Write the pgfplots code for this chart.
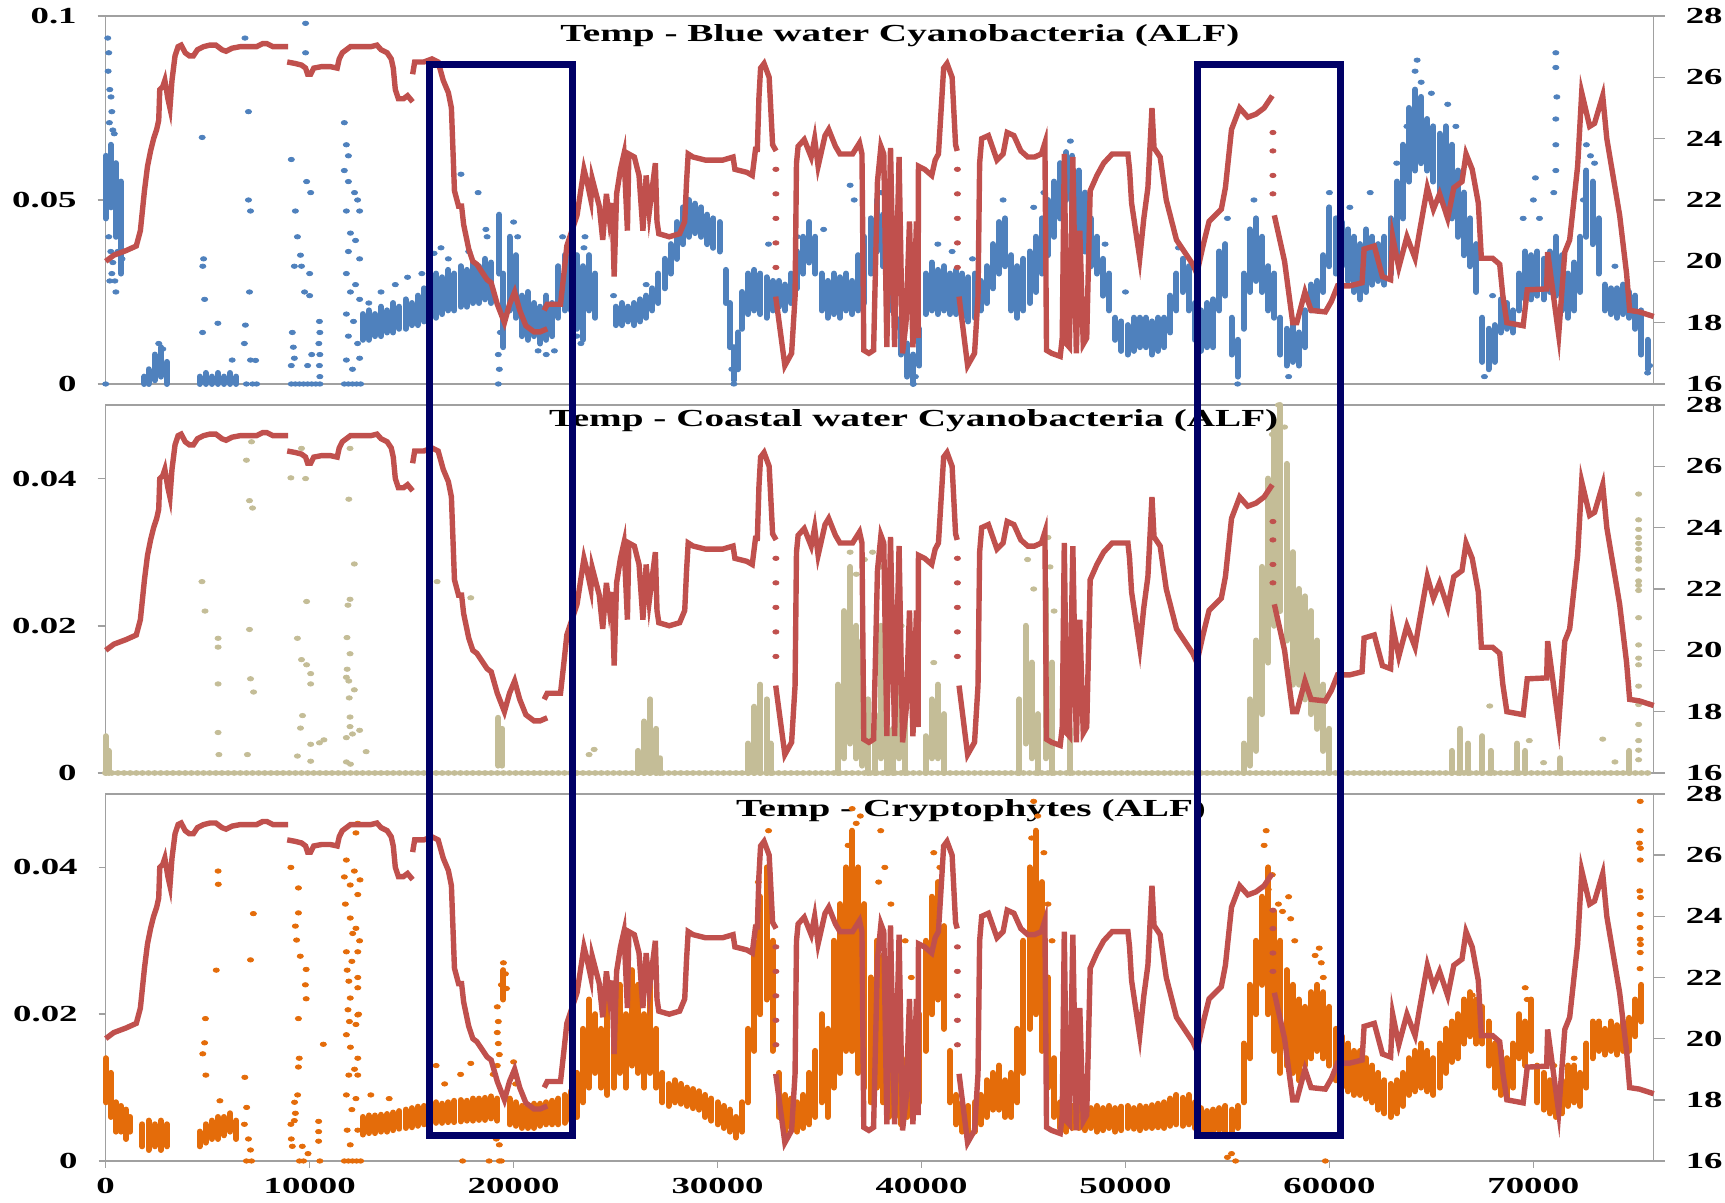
\documentclass[border=0pt]{standalone}
\usepackage{fontspec}
\setmainfont{Liberation Serif}[FakeStretch=1.6]
\usepackage{pgfplots}
\usepackage{pgfplotstable}
\pgfplotsset{compat=1.18}
\definecolor{blueC}{RGB}{79,129,189}
\definecolor{redC}{RGB}{192,80,77}
\definecolor{tanC}{RGB}{196,189,151}
\definecolor{orC}{RGB}{228,108,10}
\definecolor{navyC}{RGB}{0,0,102}
\definecolor{frameC}{RGB}{160,160,160}

\pgfplotstableread{
x T
0 20.0
400 20.2
1000 20.35
1500 20.5
1700 21.0
1900 22.3
2050 23.1
2200 23.6
2350 24.0
2500 24.3
2600 24.6
2650 25.6
2800 25.7
2900 25.9
3050 25.3
3150 25.0
3250 25.9
3400 26.7
3550 27.0
3700 27.05
3900 26.8
4100 26.7
4300 26.7
4500 26.9
4800 27.0
5100 27.05
5400 27.05
5700 26.9
5900 26.85
6200 26.95
6600 27.0
7000 27.0
7400 27.0
7700 27.1
7900 27.1
8200 27.0
8950 27.0
nan nan
8900 26.5
9300 26.45
9600 26.4
9800 26.3
9900 26.1
10050 26.1
10200 26.3
10600 26.35
11000 26.35
11350 26.3
11450 26.6
11600 26.8
12000 27.0
12500 27.0
13000 27.0
13300 27.05
13500 26.9
13800 26.8
14000 26.6
14100 26.3
14200 25.6
14350 25.3
14600 25.3
14800 25.4
15050 25.2
nan nan
15050 26.1
15150 26.5
15600 26.5
16000 26.6
16300 26.5
16550 25.9
16800 25.5
16950 25.0
17100 22.3
17300 21.8
17450 21.8
17550 21.2
17800 20.4
18000 20.0
18200 19.9
18500 19.6
18700 19.4
18900 19.3
19200 18.6
19550 18.0
19800 18.6
20050 19.0
20300 18.4
20600 17.9
21000 17.7
21300 17.7
21650 17.8
nan nan
21500 18.4
21650 18.6
22300 18.6
22450 19.5
22610 20.5
23110 21.5
23450 23.0
23600 22.6
23790 22.0
23850 22.7
24200 21.8
24370 20.7
24550 22.2
24700 21.35
24830 21.9
24930 19.5
25050 22.2
25240 23.0
25410 23.5
25580 21.0
25650 23.5
25920 23.4
26150 22.8
26340 21.0
26500 22.8
26650 21.6
26950 23.2
27030 21.3
27120 20.9
27630 20.8
28140 20.9
28390 21.3
28480 22.6
28560 23.5
28800 23.4
29410 23.3
30250 23.3
30760 23.4
30850 23.0
31440 22.9
31700 22.8
31860 23.65
31950 23.65
32030 25.35
32110 26.3
32280 26.45
32530 26.0
32700 23.8
32870 23.6
nan nan
32850 18.85
33300 16.6
33630 17.0
33800 18.85
33870 23.2
33950 23.75
34250 23.97
34590 23.4
34760 24.0
34930 23.1
35270 24.1
35450 24.3
35780 23.75
36000 23.5
36290 23.5
36620 23.5
36960 23.86
37080 23.5
37170 17.1
37420 17.0
37650 17.1
37840 22.6
38010 23.75
38150 23.5
38300 17.2
38480 23.7
38680 17.2
38900 23.4
39070 17.0
39240 18.0
39410 21.3
39580 17.2
39750 21.3
39830 17.5
39850 23.1
40150 23.0
40500 22.8
40670 23.3
40830 23.5
41000 25.35
41085 26.3
41250 26.45
41500 26.0
41670 23.8
41750 23.6
nan nan
41840 18.85
42260 16.6
42600 17.0
42770 18.85
42850 23.2
42950 24.0
43280 24.1
43700 23.3
44000 23.5
44200 24.2
44530 24.1
44870 23.6
45210 23.4
45540 23.4
45880 23.5
46050 23.86
46130 17.1
46380 17.0
46800 16.9
46900 17.5
47000 23.5
47120 17.3
47250 17.2
47420 23.4
47590 17.0
47760 21.0
47930 17.3
48100 17.5
48270 22.3
48600 22.8
48930 23.2
49350 23.5
50120 23.5
50200 23.0
50300 21.9
50700 20.1
50900 21.4
51100 22.4
51300 25.0
51400 23.7
51700 23.4
52000 22.0
52500 20.7
52700 20.5
53300 19.9
53500 19.6
53800 20.5
54100 21.3
54700 21.7
54900 22.4
55200 24.3
55600 25.0
56000 24.7
56400 24.8
56800 25.0
57200 25.4
nan nan
57300 21.5
57800 20.0
58200 18.0
58400 18.0
58800 19.0
59100 18.4
59800 18.35
60100 18.7
60400 19.2
61000 19.2
61600 19.3
61700 20.4
62200 20.5
62600 19.5
63000 19.4
63100 20.8
63400 19.8
63800 20.8
64200 20.1
64400 20.9
64800 22.4
65100 21.7
65400 22.2
65800 21.4
66100 22.4
66500 22.6
66700 23.5
67000 23.0
67300 21.9
67450 20.1
68000 20.1
68350 19.9
68500 18.9
68700 18.0
69500 17.9
69700 19.07
70650 19.1
70700 20.3
71240 17.6
71540 20.3
71780 20.7
72170 23.1
72370 25.5
72760 24.4
73000 24.5
73400 25.4
73600 24.0
74230 21.5
74570 19.6
74720 18.4
75200 18.35
75900 18.2
}\tempdata

\pgfplotstableread{
x T
32860 23.0
32860 22.2
32860 21.4
32860 20.6
32860 19.8
41760 23.0
41760 22.2
41760 21.4
41760 20.6
41760 19.8
57230 24.2
57230 23.6
57230 22.8
57230 22.2
}\tempdots

\pgfplotstableread{
x lo hi
0 .045 .062
250 .048 .065
500 .040 .060
750 .030 .055
1900 .000 .002
2100 .000 .004
2400 .001 .008
2700 .002 .010
3000 .000 .006
4600 .000 .002
4900 .000 .003
5200 .000 .002
5500 .000 .003
5800 .000 .002
6100 .000 .003
6400 .000 .002
12600 .012 .019
12900 .012 .020
13200 .013 .019
13500 .013 .021
13800 .014 .020
14100 .014 .022
14400 .015 .021
14700 .015 .023
15000 .016 .022
15300 .016 .024
15600 .017 .026
15900 .018 .028
16200 .018 .030
16500 .019 .029
16800 .020 .031
17100 .020 .030
17400 .021 .032
17700 .021 .031
18000 .022 .033
18300 .022 .032
18600 .023 .034
18900 .022 .033
19300 .030 .046
19500 .010 .030
19800 .020 .040
20100 .018 .035
20400 .013 .024
20700 .012 .025
21000 .013 .022
21300 .011 .021
21600 .012 .024
21900 .013 .022
22200 .018 .032
22500 .020 .035
22800 .020 .035
23100 .015 .035
23400 .012 .032
23700 .020 .035
24000 .018 .030
25000 .016 .021
25300 .016 .022
25600 .017 .021
25900 .016 .022
26200 .017 .023
26500 .018 .024
26800 .020 .026
27100 .022 .030
27400 .026 .034
27700 .030 .038
28000 .034 .044
28300 .038 .048
28600 .040 .050
28900 .041 .049
29200 .040 .048
29500 .038 .046
29800 .037 .045
30100 .036 .044
30400 .022 .031
30600 .010 .022
30800 .001 .010
31000 .004 .014
31200 .015 .025
31500 .019 .030
31800 .020 .031
32100 .019 .030
32400 .018 .029
32700 .020 .028
33000 .021 .028
33300 .020 .027
33600 .022 .030
33900 .026 .036
34200 .030 .040
34500 .033 .044
34800 .030 .040
35100 .020 .030
35400 .018 .028
35700 .019 .030
36000 .018 .029
36300 .020 .030
36600 .019 .028
36900 .020 .035
37200 .022 .040
37500 .030 .045
37800 .036 .050
38100 .032 .046
38400 .020 .035
38700 .015 .025
39000 .008 .018
39300 .002 .011
39600 .000 .008
39900 .005 .015
40200 .019 .030
40500 .020 .033
40800 .019 .031
41100 .020 .032
41400 .019 .030
41700 .019 .031
42000 .018 .030
42300 .017 .029
42600 .018 .030
42900 .020 .028
43200 .022 .032
43500 .026 .038
43800 .030 .044
44100 .032 .045
44400 .020 .035
44700 .018 .032
45000 .020 .034
45300 .022 .036
45600 .025 .040
45900 .030 .045
46200 .035 .050
46500 .040 .055
46800 .045 .060
47100 .050 .063
47400 .045 .062
47700 .040 .058
48000 .036 .052
48300 .032 .045
48600 .030 .040
48900 .024 .034
49200 .020 .030
49500 .012 .018
49800 .009 .017
50100 .008 .016
50400 .009 .018
50700 .010 .018
51000 .010 .018
51300 .008 .017
51600 .009 .018
51900 .010 .018
52200 .014 .024
52500 .020 .030
52800 .025 .034
53100 .020 .032
53400 .012 .022
53700 .009 .020
54000 .010 .022
54300 .010 .023
54600 .020 .036
54900 .024 .038
55200 .008 .018
55500 .002 .012
55800 .015 .030
56100 .025 .042
56400 .028 .045
56700 .025 .040
57000 .020 .032
57300 .018 .030
57600 .008 .018
57900 .005 .015
58200 .006 .016
58500 .005 .014
58800 .010 .020
59100 .020 .027
59400 .020 .028
59700 .025 .035
60000 .032 .048
60300 .030 .045
60600 .032 .044
60900 .028 .042
61200 .025 .040
61500 .023 .038
61800 .025 .042
62100 .027 .040
62400 .028 .038
62700 .027 .040
63000 .030 .045
63300 .035 .055
63600 .045 .065
63900 .055 .075
64200 .058 .080
64500 .060 .078
64800 .058 .072
65100 .055 .070
65400 .050 .068
65700 .048 .070
66000 .045 .065
66300 .040 .058
66600 .035 .052
66900 .032 .045
67200 .025 .038
67500 .006 .018
67800 .004 .015
68100 .006 .016
68400 .014 .023
68700 .015 .022
69000 .014 .020
69300 .020 .030
69600 .023 .036
69900 .023 .035
70200 .024 .036
70500 .023 .034
70800 .025 .036
71100 .024 .040
71400 .020 .035
71700 .018 .030
72000 .020 .033
72300 .025 .040
72600 .040 .058
72900 .038 .055
73200 .030 .045
73500 .020 .027
73800 .019 .026
74100 .018 .026
74400 .019 .027
74700 .018 .025
75000 .015 .024
75300 .008 .020
75600 .004 .012
}\blueband

\pgfplotstableread{
x y
0 0
100 .094
150 .090
120 .085
200 .080
260 .078
300 .074
180 .071
350 .069
420 .068
150 .040
250 .036
350 .033
300 .030
200 .028
500 .025
450 .028
700 .050
650 .043
600 .036
800 .034
2600 .011
2800 .0095
4760 .032
4800 .034
4850 .023
4750 .014
4730 .067
5500 .0165
6200 .0065
6830 .094
7000 .074
7000 .050
7100 .047
7050 .025
6850 .016
6800 .011
7100 .0065
7350 .0064
6900 0
7200 0
7400 0
9800 .098
9800 .090
9100 .061
9850 .055
10050 .052
9300 .047
9400 .040
9550 .035
9250 .032
9600 .032
10000 .030
9750 .025
10000 .024
9150 .014
9200 .010
9250 .007
9100 .005
10100 .008
9900 .005
9100 0
9300 0
9500 0
9700 0
9900 0
10100 0
10300 0
10480 .017
10500 .014
10450 .011
10500 .008
10480 .005
10500 .002
10500 0
11700 .071
11800 .065
11900 .062
11700 .058
11900 .055
12200 .052
12350 .050
12450 .047
11800 .047
12000 .041
12250 .039
11900 .036
12450 .034
11800 .030
12250 .027
12000 .025
12450 .023
11800 .019
12150 .017
11900 .013
12350 .011
11800 .0065
12450 .007
12100 .004
11700 0
11900 0
12100 0
12300 0
12500 0
12900 .022
13500 .025
14200 .027
14800 .029
15500 .030
16100 .0355
16440 .037
17420 .057
18260 .052
18640 .042
18700 .040
16800 .034
17800 .036
19250 .008
19250 0
19300 .004
19350 .014
19400 .020
20000 .044
20200 .040
21200 .009
21600 .008
22000 .009
23500 .040
23450 .037
22400 .040
23300 .011
23100 .013
24900 .024
26500 .027
30800 0
30700 .004
32500 .038
33900 .040
35200 .042
36500 .054
36700 .050
38000 .052
39600 0
39700 .002
40800 .038
41500 .036
42500 .034
44000 .050
45500 .048
46000 .052
47300 .066
49000 .038
50000 .025
52600 .037
55000 .045
55500 0
56300 .050
58000 .002
60000 .052
61000 .048
62000 .052
63300 .060
64300 .088
64200 .085
64500 .082
63800 .070
65000 .079
65800 .076
66200 .070
67600 .002
68000 .024
69500 .045
70100 .056
70000 .050
70300 .045
71100 .090
71100 .086
71150 .078
71100 .072
71100 .065
71100 .058
71000 .052
72600 .065
72800 .062
73000 .060
72450 .050
74000 .032
75600 .003
75700 .005
}\bluepts

\pgfplotstableread{
x lo hi
0 0 .005
150 0 .003
19250 .001 .0075
19450 .001 .006
26100 0 .003
26400 0 .007
26700 0 .010
27000 0 .006
27200 0 .002
31500 0 .004
31800 0 .009
32100 0 .012
32400 0 .010
32600 0 .004
35900 0 .012
36200 .002 .022
36500 .004 .028
36800 .002 .020
37100 .001 .018
37400 0 .010
37700 0 .008
38000 .002 .020
38300 0 .012
38600 0 .006
38900 .002 .015
39200 0 .008
40200 0 .005
40500 .002 .010
40800 .002 .012
41100 0 .008
44800 0 .010
45100 .004 .020
45400 .002 .015
45700 0 .008
46100 .002 .025
46400 0 .015
47300 0 .006
55800 0 .004
56100 .001 .010
56400 .003 .018
56700 .008 .028
57000 .015 .040
57300 .020 .048
57600 .022 .050
57900 .018 .042
58200 .012 .030
58500 .012 .025
58800 .010 .024
59100 .008 .022
59400 .006 .018
59700 .003 .012
60000 0 .006
66000 0 .003
66400 0 .006
66800 0 .004
67500 0 .005
67900 0 .003
69200 0 .004
69600 0 .003
71300 0 .002
74700 0 .003
}\tanband

\pgfplotstableread{
x y
4720 .026
4870 .022
5510 .0183
5510 .0171
5510 .0121
5510 .0055
5550 .0025
6900 .0425
7050 .037
7200 .036
7050 .0195
7100 .0128
7250 .011
6950 .0025
7150 .045
9080 .0401
9800 .040
9600 .0441
9850 .0233
9400 .0183
9600 .0154
9850 .0147
10050 .0135
10050 .0121
9650 .0078
9550 .0061
10050 .0039
9400 .0023
10050 .0016
10480 .0041
10700 .0045
11980 .0441
11920 .0372
12190 .0284
11980 .0236
11880 .0228
11830 .0184
11980 .0162
11840 .0141
11800 .013
11920 .0125
12190 .0113
11940 .0102
11980 .0076
11980 .0063
12450 .0058
11800 .0048
12100 .0053
12770 .0029
11800 .0015
12000 .0012
16250 .026
17900 .0238
23950 .0032
23700 .0025
36500 .030
36800 .027
37200 .029
37600 .030
38000 .028
38300 .025
38600 .022
39000 .020
38200 .015
39300 .010
40600 .015
45200 .029
45500 .025
46200 .032
46300 .028
46500 .022
47400 .012
47600 .008
57500 .050
57200 .046
57800 .047
67860 .0091
69800 .0044
70500 .0014
73400 .0046
74000 .0015
75160 .0379
75160 .0344
75160 .0331
75160 .032
75160 .0312
75160 .0304
75160 .0292
75160 .0288
75160 .0277
75160 .0261
75160 .0255
75160 .0248
75160 .0211
75160 .0174
75160 .0156
75160 .0147
75160 .0118
75160 .0093
75160 .0066
75160 .0044
75160 .0031
75160 .0018
}\tanpts

\pgfplotstableread{
x lo hi
0 .008 .014
250 .006 .012
500 .004 .008
750 .004 .0075
1000 .003 .007
1200 .004 .006
1800 .002 .005
2100 .0015 .0055
2400 .002 .005
2700 .0015 .0055
3000 .002 .005
4600 .002 .004
4900 .0025 .005
5200 .003 .0055
5500 .003 .006
5800 .0035 .006
6100 .004 .0065
6400 .003 .0055
12600 .0036 .0060
12900 .0038 .0062
13200 .0038 .0062
13500 .004 .0063
13800 .004 .0064
14100 .0042 .0066
14400 .0044 .0068
14700 .0045 .0070
15000 .0046 .0072
15300 .0048 .0074
15600 .005 .0075
15900 .005 .0078
16200 .0052 .008
16500 .0052 .0078
16800 .0053 .0080
17100 .0053 .0082
17400 .0054 .0083
17700 .0055 .0082
18000 .0055 .0085
18300 .0056 .0085
18600 .0056 .0086
18900 .0058 .0088
19200 .0055 .0085
19500 .022 .026
19800 .005 .0085
20100 .0048 .008
20400 .0045 .0075
20700 .0045 .0075
21000 .0045 .0078
21300 .0048 .0078
21600 .005 .008
21900 .005 .0082
22200 .005 .0085
22500 .0052 .009
22800 .0055 .0095
23100 .006 .012
23400 .008 .018
23700 .010 .022
24000 .012 .020
24300 .010 .018
24600 .009 .022
24900 .010 .020
25200 .012 .024
25500 .010 .020
25800 .013 .026
26100 .012 .024
26400 .010 .020
26700 .012 .025
27000 .010 .018
27300 .008 .012
27600 .0075 .0105
27900 .008 .011
28200 .0078 .0105
28500 .0075 .010
28800 .0072 .0098
29100 .007 .0095
29400 .006 .009
29700 .0055 .0085
30000 .005 .008
30300 .0045 .0075
30600 .004 .007
30900 .0032 .006
31200 .004 .008
31500 .008 .018
31800 .015 .030
32100 .020 .036
32400 .022 .040
32700 .015 .030
33000 .006 .012
33300 .004 .009
33600 .0045 .0085
33900 .004 .008
34200 .0045 .009
34500 .005 .012
34800 .006 .015
35100 .008 .020
35400 .006 .018
35700 .010 .030
36000 .012 .035
36300 .015 .040
36600 .015 .045
36900 .012 .040
37200 .010 .035
37500 .008 .025
37800 .010 .030
38100 .008 .028
38400 .006 .020
38700 .006 .015
39000 .005 .012
39300 .006 .014
39600 .006 .012
39900 .008 .020
40200 .015 .030
40500 .020 .036
40800 .022 .038
41100 .018 .032
41400 .008 .015
41700 .005 .009
42000 .004 .008
42300 .003 .0075
42600 .004 .008
42900 .005 .009
43200 .006 .011
43500 .007 .012
43800 .007 .013
44100 .006 .011
44400 .006 .012
44700 .008 .018
45000 .012 .030
45300 .018 .040
45600 .020 .045
45900 .015 .038
46200 .010 .025
46500 .006 .014
46800 .0045 .008
47100 .004 .0075
47400 .0045 .0075
47700 .0045 .0078
48000 .0042 .0075
48300 .0045 .0072
48600 .004 .0075
48900 .0042 .0072
49200 .0045 .0075
49500 .004 .0072
49800 .0042 .0074
50100 .0045 .0075
50400 .0044 .0072
50700 .0042 .0075
51000 .0045 .0074
51300 .0045 .0076
51600 .0046 .0078
51900 .0045 .0080
52200 .0048 .0085
52500 .005 .0090
52800 .0048 .0086
53100 .005 .0090
53400 .0045 .0080
53700 .004 .0072
54000 .004 .0068
54300 .004 .0070
54600 .0042 .0072
54900 .004 .0075
55200 .004 .0070
55500 .0045 .0075
55800 .008 .016
56100 .014 .024
56400 .020 .030
56700 .024 .036
57000 .020 .040
57300 .015 .034
57600 .012 .030
57900 .013 .026
58200 .012 .024
58500 .011 .022
58800 .013 .021
59100 .014 .023
59400 .015 .024
59700 .014 .023
60000 .013 .021
60300 .011 .018
60600 .010 .017
60900 .0095 .016
61200 .009 .015
61500 .009 .015
61800 .0085 .014
62100 .008 .013
62400 .007 .012
62700 .0065 .011
63000 .006 .0105
63300 .0065 .011
63600 .0075 .012
63900 .009 .014
64200 .0095 .015
64500 .010 .016
64800 .0095 .015
65100 .009 .014
65400 .010 .016
65700 .012 .018
66000 .0135 .019
66300 .014 .020
66600 .016 .022
66900 .017 .023
67200 .016 .022
67500 .016 .021
67800 .013 .019
68100 .010 .016
68400 .009 .015
68700 .0085 .014
69000 .010 .016
69300 .014 .020
69600 .013 .019
69900 .015 .022
70200 .008 .013
70500 .007 .012
70800 .0065 .011
71100 .006 .010
71400 .0065 .011
71700 .0075 .013
72000 .008 .013
72300 .0075 .012
72600 .010 .016
72900 .014 .019
73200 .015 .019
73500 .0145 .018
73800 .015 .019
74100 .0145 .0185
74400 .015 .019
74700 .015 .0195
75000 .017 .022
75300 .019 .024
}\orband

\pgfplotstableread{
x y
4890 .0194
4850 .0161
4760 .0146
4910 .0117
5420 .026
5510 .0395
5520 .0377
5600 .0082
6820 .0114
7100 .0274
7240 .0337
6910 .0073
6800 .005
7000 .003
7100 .0015
6900 0
7150 0
9080 .040
9450 .0372
9450 .0338
9300 .032
9360 .0301
9540 .0279
9830 .0261
9790 .024
9830 .0221
9450 .0194
9490 .014
9450 .0128
9410 .009
9260 .008
9300 .0065
9250 .0055
9080 .005
9100 .003
9150 .002
9640 .002
9920 .001
9700 0
9500 0
10670 .0159
10440 .0054
10440 .0040
10440 .0027
10500 0
12360 .046
12270 .0447
11800 .041
12190 .0395
12470 .0383
11700 .0387
11990 .0376
12360 .0363
11990 .0331
12270 .0317
12110 .031
11800 .0285
12360 .0285
12070 .0272
11840 .026
12360 .025
11920 .0245
12360 .0236
11990 .0222
11880 .0206
12360 .0199
12270 .0186
11800 .0172
12360 .014
11920 .0117
12360 .0117
11800 .009
12270 .0085
12070 .007
11840 .0042
12360 .0042
11990 .0022
11700 0
11900 0
12100 0
12300 0
12500 0
12000 .0155
12200 .0125
11950 .019
12400 .020
12450 .030
11750 .035
13000 .009
13900 .0085
16200 .013
16620 .0105
17400 .0118
17900 .0133
19200 .021
19250 .019
19200 .0175
19250 .016
19300 .0145
19200 .013
19000 .0118
19150 .003
19300 .0022
18800 0
19300 0
19400 0
17500 0
20000 .0135
20000 .0115
20100 .0105
19500 .027
19600 .0255
19400 .024
19650 .0235
32300 .043
32500 .045
32000 .038
36600 .048
36800 .046
37000 .047
36400 .043
38000 .045
38200 .040
37900 .038
38500 .035
39200 .030
39500 .025
40600 .042
40900 .040
45500 .049
45700 .047
45400 .044
46000 .042
46200 .035
46400 .030
56900 .045
56800 .043
57000 .037
57200 .039
57500 .035
57700 .034
58000 .036
58100 .033
58300 .030
59300 .028
59500 .029
59600 .027
59700 .025
55000 .0005
55200 .001
55400 0
59800 0
67000 .0226
67300 .0215
69600 .0236
69700 .022
71000 .013
72000 .014
75240 .049
75240 .045
75200 .0433
75250 .0426
75240 .041
75220 .0368
75250 .0359
75240 .0336
75230 .0318
75240 .0302
75250 .0295
75240 .0284
75230 .0262
}\orpts

\tikzset{titlefont/.style={font=\fontsize{12.25}{14}\selectfont\bfseries}}
\pgfplotsset{
  base/.style={scale only axis, width=774pt, height=184pt, xmin=0, xmax=75900,
    clip=false, scaled y ticks=false, scaled x ticks=false,
    axis line style={draw=frameC, line width=0.75pt},
    tick style={draw=frameC, line width=0.75pt}, major tick length=4pt,
    tick align=outside,
    ticklabel style={font=\fontsize{11.5}{12}\selectfont\bfseries}},
  leftax/.style={base, ytick pos=left, anchor=south west,
    yticklabel style={xshift=-7pt}},
  rightax/.style={base, anchor=south west, axis y line*=right, axis x line=none,
    ymin=16, ymax=28, ytick={16,18,20,22,24,26,28},
    yticklabels={16,18,20,22,24,26,28}, major tick length=5.5pt,
    yticklabel style={xshift=7pt}},
  band/.style={forget plot, draw=none, mark=none, error bars/.cd, y dir=plus,
    y explicit, error mark=none,
    error bar style={line width=3pt, line cap=round, draw=#1}},
  pts/.style={only marks, mark=*, color=#1, mark size=1.1pt,
    mark options={draw=none, fill=#1, xscale=1.4}},
  templine/.style={redC, line width=2.7pt, unbounded coords=jump, mark=none}
}

\begin{document}
\begin{tikzpicture}
\path[use as bounding box] (0,0) rectangle (862.5pt,601.5pt);

% ---------- Panel 1 ----------
\begin{axis}[leftax, at={(52.85pt,409.5pt)}, ymin=0, ymax=0.1,
  ytick={0,0.05,0.1}, yticklabels={0,0.05,0.1}, xtick=\empty]
  \addplot[band=blueC] table[x=x, y=lo, y error expr=\thisrow{hi}-\thisrow{lo}] {\blueband};
  \addplot[pts=blueC] table[x=x, y=y] {\bluepts};
  \node[titlefont] at (rel axis cs:0.513,0.946) {Temp - Blue water Cyanobacteria (ALF)};
\end{axis}
\begin{axis}[rightax, at={(52.85pt,409.5pt)}]
  \addplot[templine] table[x=x, y=T] {\tempdata};
  \addplot[pts=redC] table[x=x, y=T] {\tempdots};
\end{axis}

% ---------- Panel 2 ----------
\begin{axis}[leftax, at={(52.85pt,215pt)}, ymin=0, ymax=0.05,
  ytick={0,0.02,0.04}, yticklabels={0,0.02,0.04}, xtick=\empty]
  \addplot[pts=tanC, mark size=1.2pt] coordinates {
  (0,0)(300,0)(600,0)(900,0)(1200,0)(1500,0)(1800,0)(2100,0)(2400,0)(2700,0)
  (3000,0)(3300,0)(3600,0)(3900,0)(4200,0)(4500,0)(4800,0)(5100,0)(5400,0)(5700,0)
  (6000,0)(6300,0)(6600,0)(6900,0)(7200,0)(7500,0)(7800,0)(8100,0)(8400,0)(8700,0)
  (9000,0)(9300,0)(9600,0)(9900,0)(10200,0)(10500,0)(10800,0)(11100,0)(11400,0)(11700,0)
  (12000,0)(12300,0)(12600,0)(12900,0)(13200,0)(13500,0)(13800,0)(14100,0)(14400,0)(14700,0)
  (15000,0)(15300,0)(15600,0)(15900,0)(16200,0)(16500,0)(16800,0)(17100,0)(17400,0)(17700,0)
  (18000,0)(18300,0)(18600,0)(18900,0)(19200,0)(19500,0)(19800,0)(20100,0)(20400,0)(20700,0)
  (21000,0)(21300,0)(21600,0)(21900,0)(22200,0)(22500,0)(22800,0)(23100,0)(23400,0)(23700,0)
  (24000,0)(24300,0)(24600,0)(24900,0)(25200,0)(25500,0)(25800,0)(26100,0)(26400,0)(26700,0)
  (27000,0)(27300,0)(27600,0)(27900,0)(28200,0)(28500,0)(28800,0)(29100,0)(29400,0)(29700,0)
  (30000,0)(30300,0)(30600,0)(30900,0)(31200,0)(31500,0)(31800,0)(32100,0)(32400,0)(32700,0)
  (33000,0)(33300,0)(33600,0)(33900,0)(34200,0)(34500,0)(34800,0)(35100,0)(35400,0)(35700,0)
  (36000,0)(36300,0)(36600,0)(36900,0)(37200,0)(37500,0)(37800,0)(38100,0)(38400,0)(38700,0)
  (39000,0)(39300,0)(39600,0)(39900,0)(40200,0)(40500,0)(40800,0)(41100,0)(41400,0)(41700,0)
  (42000,0)(42300,0)(42600,0)(42900,0)(43200,0)(43500,0)(43800,0)(44100,0)(44400,0)(44700,0)
  (45000,0)(45300,0)(45600,0)(45900,0)(46200,0)(46500,0)(46800,0)(47100,0)(47400,0)(47700,0)
  (48000,0)(48300,0)(48600,0)(48900,0)(49200,0)(49500,0)(49800,0)(50100,0)(50400,0)(50700,0)
  (51000,0)(51300,0)(51600,0)(51900,0)(52200,0)(52500,0)(52800,0)(53100,0)(53400,0)(53700,0)
  (54000,0)(54300,0)(54600,0)(54900,0)(55200,0)(55500,0)(55800,0)(56100,0)(56400,0)(56700,0)
  (57000,0)(57300,0)(57600,0)(57900,0)(58200,0)(58500,0)(58800,0)(59100,0)(59400,0)(59700,0)
  (60000,0)(60300,0)(60600,0)(60900,0)(61200,0)(61500,0)(61800,0)(62100,0)(62400,0)(62700,0)
  (63000,0)(63300,0)(63600,0)(63900,0)(64200,0)(64500,0)(64800,0)(65100,0)(65400,0)(65700,0)
  (66000,0)(66300,0)(66600,0)(66900,0)(67200,0)(67500,0)(67800,0)(68100,0)(68400,0)(68700,0)
  (69000,0)(69300,0)(69600,0)(69900,0)(70200,0)(70500,0)(70800,0)(71100,0)(71400,0)(71700,0)
  (72000,0)(72300,0)(72600,0)(72900,0)(73200,0)(73500,0)(73800,0)(74100,0)(74400,0)(74700,0)
  (75000,0)(75300,0)(75600,0)
  };
  \addplot[band=tanC] table[x=x, y=lo, y error expr=\thisrow{hi}-\thisrow{lo}] {\tanband};
  \addplot[pts=tanC] table[x=x, y=y] {\tanpts};
  \node[titlefont] at (rel axis cs:0.522,0.957) {Temp - Coastal water Cyanobacteria (ALF)};
\end{axis}
\begin{axis}[rightax, at={(52.85pt,215pt)}]
  \addplot[templine] table[x=x, y=T] {\tempdata};
  \addplot[pts=redC] table[x=x, y=T] {\tempdots};
\end{axis}

% ---------- Panel 3 ----------
\begin{axis}[leftax, at={(52.85pt,21pt)}, height=183.5pt, ymin=0, ymax=0.05,
  ytick={0,0.02,0.04}, yticklabels={0,0.02,0.04},
  xtick={0,10000,20000,30000,40000,50000,60000,70000},
  xticklabels={0,10000,20000,30000,40000,50000,60000,70000},
  xtick pos=bottom, major tick length=3.5pt,
  xticklabel style={yshift=-1.5pt}]
  \addplot[band=orC] table[x=x, y=lo, y error expr=\thisrow{hi}-\thisrow{lo}] {\orband};
  \addplot[pts=orC] table[x=x, y=y] {\orpts};
  \node[titlefont] at (rel axis cs:0.559,0.956) {Temp - Cryptophytes (ALF)};
\end{axis}
\begin{axis}[rightax, at={(52.85pt,21pt)}, height=183.5pt]
  \addplot[templine] table[x=x, y=T] {\tempdata};
  \addplot[pts=redC] table[x=x, y=T] {\tempdots};
\end{axis}

% ---------- highlight boxes ----------
\draw[navyC, line width=3.5pt] (214.75pt,33.75pt) rectangle (286.25pt,569.25pt);
\draw[navyC, line width=3.5pt] (598.75pt,33.75pt) rectangle (670.25pt,569.25pt);
\end{tikzpicture}
\end{document}
